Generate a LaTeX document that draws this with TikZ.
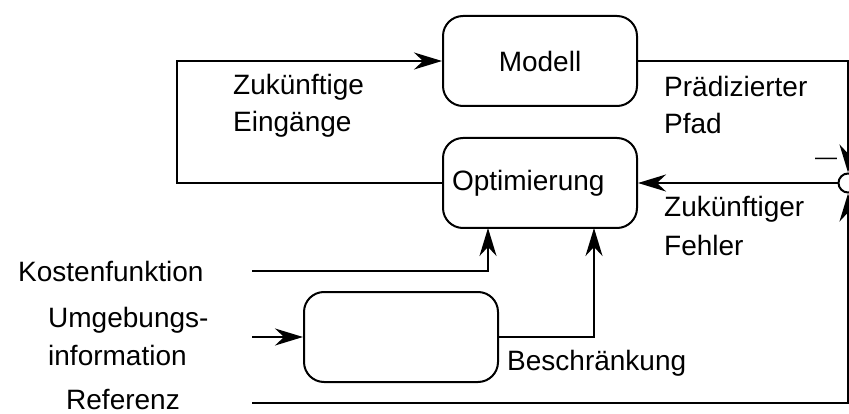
\documentclass[tikz,border=0pt]{standalone}
\usepackage{fontspec}
\setmainfont{Liberation Sans}
\usetikzlibrary{arrows.meta}
\begin{document}
\begin{tikzpicture}[x=1pt,y=-1pt,
  every node/.style={font=\fontsize{28}{34}\selectfont},
  blk/.style={draw, line width=2pt, rounded corners=20pt, minimum width=194pt, minimum height=90pt, inner sep=0pt},
  conn/.style={line width=2.2pt},
  arr/.style={conn, -{Stealth[length=28pt,width=17pt,inset=9pt]}},
  lbl/.style={anchor=base west, inner sep=0pt}]
\useasboundingbox (0,0) rectangle (849,414);
\clip (0,0) rectangle (849,414);
% blocks
\node[blk] (modell) at (540,61) {Modell};
\node[blk, text width=176pt, align=left, inner xsep=9pt] (opt) at (540,183) {Optimierung};
\node[blk] (cons) at (401,337) {};
\node[draw, circle, line width=2pt, minimum size=19pt, inner sep=0pt, fill=white] (sum) at (848,183) {};
\node[inner sep=0pt, font=\fontsize{22}{22}\selectfont] (minus) at (826,161) {—};
% connectors
\coordinate (lc) at (177,183);
\draw[arr] (opt.west) -- (lc) |- (modell.west);
\draw[arr] (modell.east) -| (sum.north);
\draw[arr] (sum.west) -- (opt.east);
\coordinate (ref) at (252,403);
\draw[arr] (ref) -| (sum.south);
\coordinate (kost) at (252,271);
\coordinate (kin) at (488,228);
\draw[arr] (kost) -| (kin);
\coordinate (bin) at (594,228);
\draw[arr] (cons.east) -| (bin);
\coordinate (umg) at (252,337);
\draw[arr] (umg) -- (cons.west);
% labels
\node[lbl] (zk1) at (233,95) {Zukünftige};
\node[lbl] (zk2) at (233,132) {Eingänge};
\node[lbl] (pp1) at (664,97) {Prädizierter};
\node[lbl] (pp2) at (664,134) {Pfad};
\node[lbl] (zf1) at (664,217) {Zukünftiger};
\node[lbl] (zf2) at (664,255) {Fehler};
\node[lbl] (kf) at (18,281) {Kostenfunktion};
\node[lbl] (ug1) at (48,327) {Umgebungs-};
\node[lbl] (ug2) at (48,365) {information};
\node[lbl] (rf) at (66,409) {Referenz};
\node[lbl] (bs) at (507,370) {Beschränkung};
\end{tikzpicture}
\end{document}
